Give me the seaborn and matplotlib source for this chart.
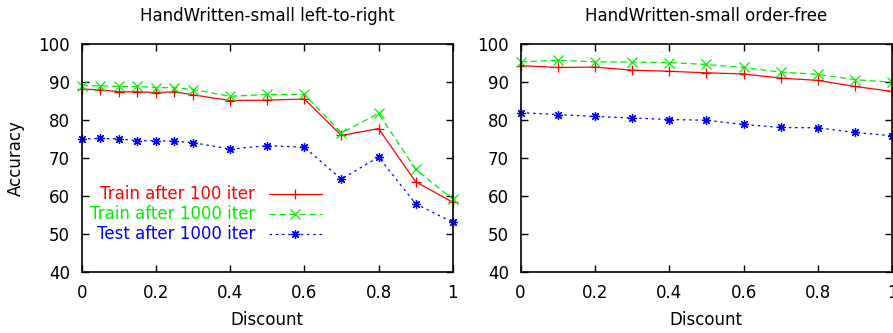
import matplotlib
matplotlib.use("Agg")
import matplotlib.pyplot as plt
import pandas as pd
import seaborn as sns

# discount values for both panels
disc_ltr = [0, 0.05, 0.1, 0.15, 0.2, 0.25, 0.3, 0.4, 0.5, 0.6, 0.7, 0.8, 0.9, 1.0]
disc_of = [0, 0.1, 0.2, 0.3, 0.4, 0.5, 0.6, 0.7, 0.8, 0.9, 1.0]

# left-to-right panel
ltr_train100 = [88.1, 87.9, 87.4, 87.4, 87.2, 87.4, 86.6, 85.1, 85.2, 85.5, 75.9, 77.7, 63.7, 58.3]
ltr_train1000 = [89.0, 89.0, 88.8, 88.8, 88.5, 88.5, 88.0, 86.2, 86.7, 86.7, 76.6, 81.7, 67.0, 59.1]
ltr_test1000 = [75.0, 75.1, 75.0, 74.5, 74.5, 74.4, 74.0, 72.3, 73.2, 72.8, 64.4, 70.2, 57.9, 53.0]

# order-free panel
of_train100 = [94.3, 93.8, 93.9, 93.1, 92.8, 92.4, 92.1, 91.0, 90.4, 88.8, 87.5]
of_train1000 = [95.3, 95.7, 95.3, 95.2, 95.1, 94.6, 93.8, 92.6, 92.0, 90.6, 89.9]
of_test1000 = [81.9, 81.4, 80.9, 80.5, 80.1, 79.9, 78.8, 78.0, 77.9, 76.7, 75.8]

series_labels = ["Train after 100 iter", "Train after 1000 iter", "Test after 1000 iter"]
titles = ["HandWritten-small left-to-right", "HandWritten-small order-free"]

sns.set_style("ticks")
plt.rcParams["font.family"] = ["DejaVu Sans"]
plt.rcParams["text.color"] = "black"
plt.rcParams["axes.labelcolor"] = "black"
plt.rcParams["axes.edgecolor"] = "black"

# gnuplot-like styles: + / x / asterisk
styles = [
    dict(color="#ff0000", marker="+", dashes=None),
    dict(color="#00ee00", marker="x", dashes=(5, 3)),
    dict(color="#0000ff", marker=(8, 2, 0), dashes=(2, 3)),
]

fig = plt.figure(figsize=(8.93, 3.33), dpi=100)
ax1 = fig.add_axes([0.0915, 0.184, 0.4155, 0.684])
ax2 = fig.add_axes([0.583, 0.184, 0.416, 0.684])

panels = [
    (ax1, disc_ltr, [ltr_train100, ltr_train1000, ltr_test1000]),
    (ax2, disc_of, [of_train100, of_train1000, of_test1000]),
]

for (ax, xs, ys), title in zip(panels, titles):
    for vals, lab, st in zip(ys, series_labels, styles):
        df = pd.DataFrame({"Discount": xs, "Accuracy": vals})
        sns.lineplot(data=df, x="Discount", y="Accuracy", ax=ax,
                     color=st["color"], marker=st["marker"], markersize=6.5,
                     markeredgecolor=st["color"], markerfacecolor=st["color"],
                     markeredgewidth=0.9, linewidth=0.9, label=lab,
                     clip_on=False)
        if st["dashes"] is not None:
            ax.lines[-1].set_dashes(st["dashes"])
    ax.set_xlim(0, 1)
    ax.set_ylim(40, 100)
    ax.set_xticks([0, 0.2, 0.4, 0.6, 0.8, 1])
    ax.set_xticklabels(["0", "0.2", "0.4", "0.6", "0.8", "1"])
    ax.set_yticks(range(40, 101, 10))
    ax.tick_params(direction="in", length=5, width=1, top=True, right=True,
                   labelsize=12, colors="black")
    ax.tick_params(axis="x", pad=9)
    ax.tick_params(axis="y", pad=8.5)
    for sp in ax.spines.values():
        sp.set_linewidth(1.2)
        sp.set_visible(True)
    ax.set_title(title, fontsize=12, pad=16.5)
    ax.set_xlabel("Discount", fontsize=12, labelpad=6)
    ax.set_ylabel("")
    ax.get_legend().remove()

ax1.set_ylabel("Accuracy", fontsize=12, labelpad=10)

leg = ax1.legend(loc="lower left", bbox_to_anchor=(0.004, 0.095), frameon=False,
                 markerfirst=False, labelcolor="linecolor", fontsize=12,
                 handlelength=3.2, labelspacing=0.12, borderaxespad=0,
                 handletextpad=0.8)
for t in leg.get_texts():
    t.set_ha("right")

fig.savefig("out.png", dpi=100)
